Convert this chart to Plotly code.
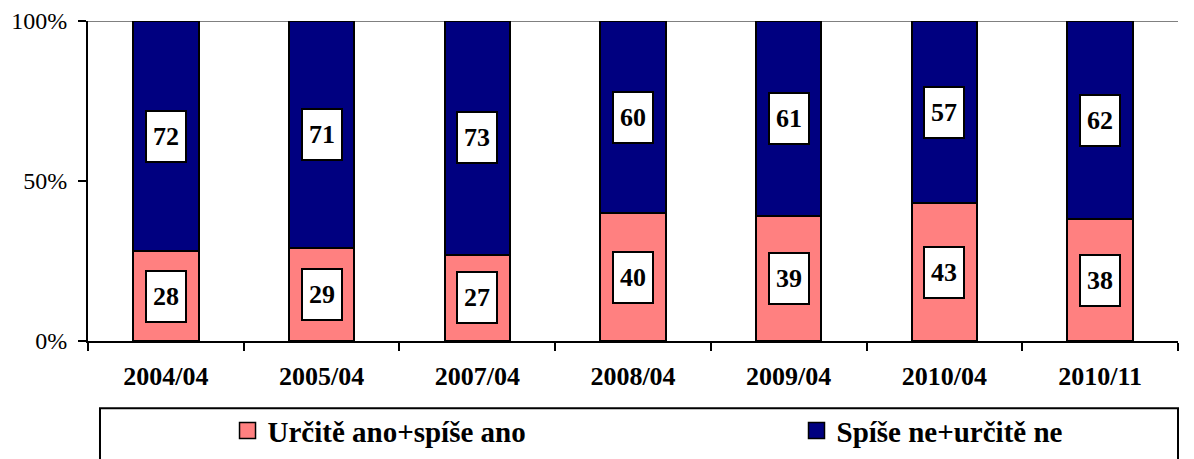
import plotly.graph_objects as go

categories = ["2004/04", "2005/04", "2007/04", "2008/04", "2009/04", "2010/04", "2010/11"]
ano = [28, 29, 27, 40, 39, 43, 38]
ne = [72, 71, 73, 60, 61, 57, 62]
series_names = ["Určitě ano+spíše ano", "Spíše ne+určitě ne"]
series_colors = ["#FF8080", "#000080"]
y_ticks = [0, 50, 100]
y_ticktext = ["0%", "50%", "100%"]

SERIF = "'Times New Roman', 'Liberation Serif', Tinos, serif"

fig = go.Figure()
fig.add_trace(go.Bar(x=categories, y=ano, name=series_names[0], showlegend=False,
                     marker=dict(color=series_colors[0], line=dict(color="black", width=2))))
fig.add_trace(go.Bar(x=categories, y=ne, name=series_names[1], showlegend=False,
                     marker=dict(color=series_colors[1], line=dict(color="black", width=2))))
# legend entries (square swatches, as in the original)
for name, col, lg in zip(series_names, series_colors, ["legend", "legend2"]):
    fig.add_trace(go.Scatter(x=[None], y=[None], mode="markers", name=name, legend=lg,
                             marker=dict(symbol="square", size=16, color=col,
                                         line=dict(color="black", width=1.5))))

annotations = []
for c, a, n in zip(categories, ano, ne):
    for val, mid in ((a, a / 2), (n, a + n / 2)):
        annotations.append(dict(
            x=c, y=mid, xref="x", yref="y", text=f"<b>{val}</b>", showarrow=False,
            font=dict(family=SERIF, size=26, color="black"),
            bgcolor="white", bordercolor="black", borderwidth=2, borderpad=2,
            width=34, height=45, xanchor="center", yanchor="middle"))

legend_font = dict(family=SERIF, size=29, color="black", weight="bold")

fig.update_layout(
    template="none",
    font=dict(family=SERIF, color="black"),
    barmode="stack",
    bargap=0.58,
    width=1186, height=451,
    margin=dict(l=80, r=16, t=13, b=118, autoexpand=False),
    paper_bgcolor="white", plot_bgcolor="white",
    showlegend=True,
    legend=dict(orientation="h", x=0.128, xanchor="left", y=-0.28, yanchor="middle",
                font=legend_font, bgcolor="rgba(0,0,0,0)", borderwidth=0,
                itemsizing="trace"),
    legend2=dict(orientation="h", x=0.650, xanchor="left", y=-0.28, yanchor="middle",
                 font=legend_font, bgcolor="rgba(0,0,0,0)", borderwidth=0,
                 itemsizing="trace"),
    annotations=annotations,
    shapes=[
        dict(type="line", xref="paper", yref="y", x0=0, x1=1, y0=100, y1=100,
             line=dict(color="#808080", width=2), layer="below"),
        dict(type="rect", xref="paper", yref="paper", x0=0.011, x1=1.0, y0=-0.21, y1=-0.6,
             line=dict(color="black", width=2), fillcolor="rgba(0,0,0,0)"),
    ],
)
fig.update_xaxes(
    automargin=False,
    showline=True, linecolor="black", linewidth=2,
    ticks="outside", tickson="boundaries", ticklen=8, tickwidth=2, tickcolor="black",
    tickfont=dict(family=SERIF, size=26, color="black", weight="bold"),
    ticklabelstandoff=11, showgrid=False,
)
fig.update_yaxes(
    automargin=False,
    range=[0, 100], tickvals=y_ticks, ticktext=y_ticktext,
    showline=True, linecolor="black", linewidth=2,
    ticks="outside", ticklen=8, tickwidth=2, tickcolor="black",
    tickfont=dict(family=SERIF, size=24, color="black"),
    ticklabelstandoff=6,
    showgrid=False, zeroline=False,
)

fig.write_html("out.html")
